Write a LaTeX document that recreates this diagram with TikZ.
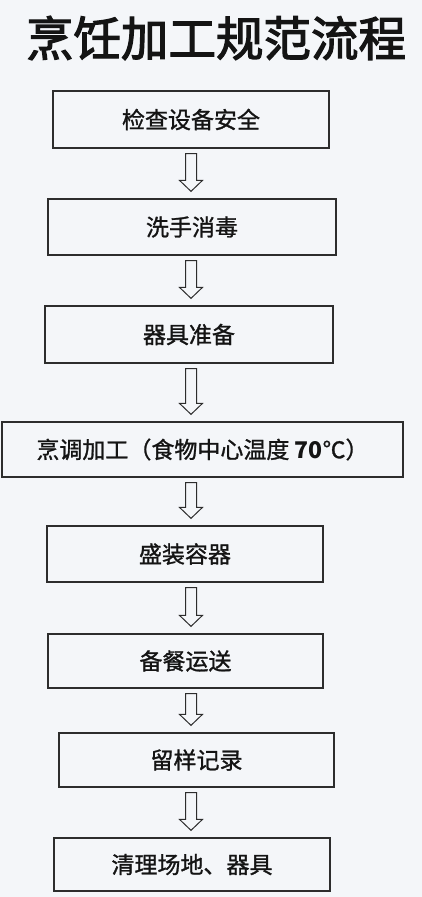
\documentclass[tikz,border=0pt]{standalone}
\usepackage{fontspec}
\setmainfont{Noto Sans CJK SC}
\newfontfamily\boxfont[FakeBold=1.2]{Noto Sans CJK SC}
\newfontfamily\titlefont[FakeBold=2.5]{Noto Sans CJK SC}
\usetikzlibrary{calc}
\definecolor{bgc}{RGB}{244,246,249}
\definecolor{linec}{RGB}{45,45,45}
\definecolor{txtc}{RGB}{20,20,20}
\tikzset{
  box/.style={draw=linec, line width=1.3pt, fill=bgc, inner sep=0pt, text=txtc,
    font=\boxfont\fontsize{23}{26}\selectfont},
  hollowarrow/.style={draw=linec, line width=1pt, fill=bgc, line join=miter},
}
\newcommand\harrow[2]{%
  \draw[hollowarrow] let \p1=(#1.south), \p2=(#2.north) in
   (185.5pt,\y1-5pt) -- (196.5pt,\y1-5pt) -- (196.5pt,\y2+18pt) -- (202.5pt,\y2+18pt)
   -- (191pt,\y2+7pt) -- (179.5pt,\y2+18pt) -- (185.5pt,\y2+18pt) -- cycle;}
\begin{document}
\begin{tikzpicture}[x=1pt,y=-1pt]
\fill[bgc] (0,0) rectangle (422,897);
\useasboundingbox (0,0) rectangle (422,897);
\node[text=txtc, font=\titlefont\fontsize{47.5}{50}\selectfont, inner sep=0pt] (title) at (216,38) {烹饪加工规范流程};
\node[box, minimum width=276pt, minimum height=57pt] (b1) at (191,119.5) {检查设备安全};
\node[box, minimum width=288pt, minimum height=56pt] (b2) at (192,227) {洗手消毒};
\node[box, minimum width=288pt, minimum height=57pt] (b3) at (189,334.5) {器具准备};
\node[box, minimum width=401pt, minimum height=55pt] (b4) at (202.5,449.5) {烹调加工（食物中心温度 {\fontspec{Noto Sans CJK SC}\bfseries 70}℃）};
\node[box, minimum width=276pt, minimum height=56pt] (b5) at (185,554) {盛装容器};
\node[box, minimum width=275pt, minimum height=54pt] (b6) at (185.5,661) {备餐运送};
\node[box, minimum width=275pt, minimum height=54pt] (b7) at (196.5,760) {留样记录};
\node[box, minimum width=276pt, minimum height=53pt] (b8) at (192,864.5) {清理场地、器具};
\harrow{b1}{b2}
\harrow{b2}{b3}
\harrow{b3}{b4}
\harrow{b4}{b5}
\harrow{b5}{b6}
\harrow{b6}{b7}
\harrow{b7}{b8}
\end{tikzpicture}
\end{document}
